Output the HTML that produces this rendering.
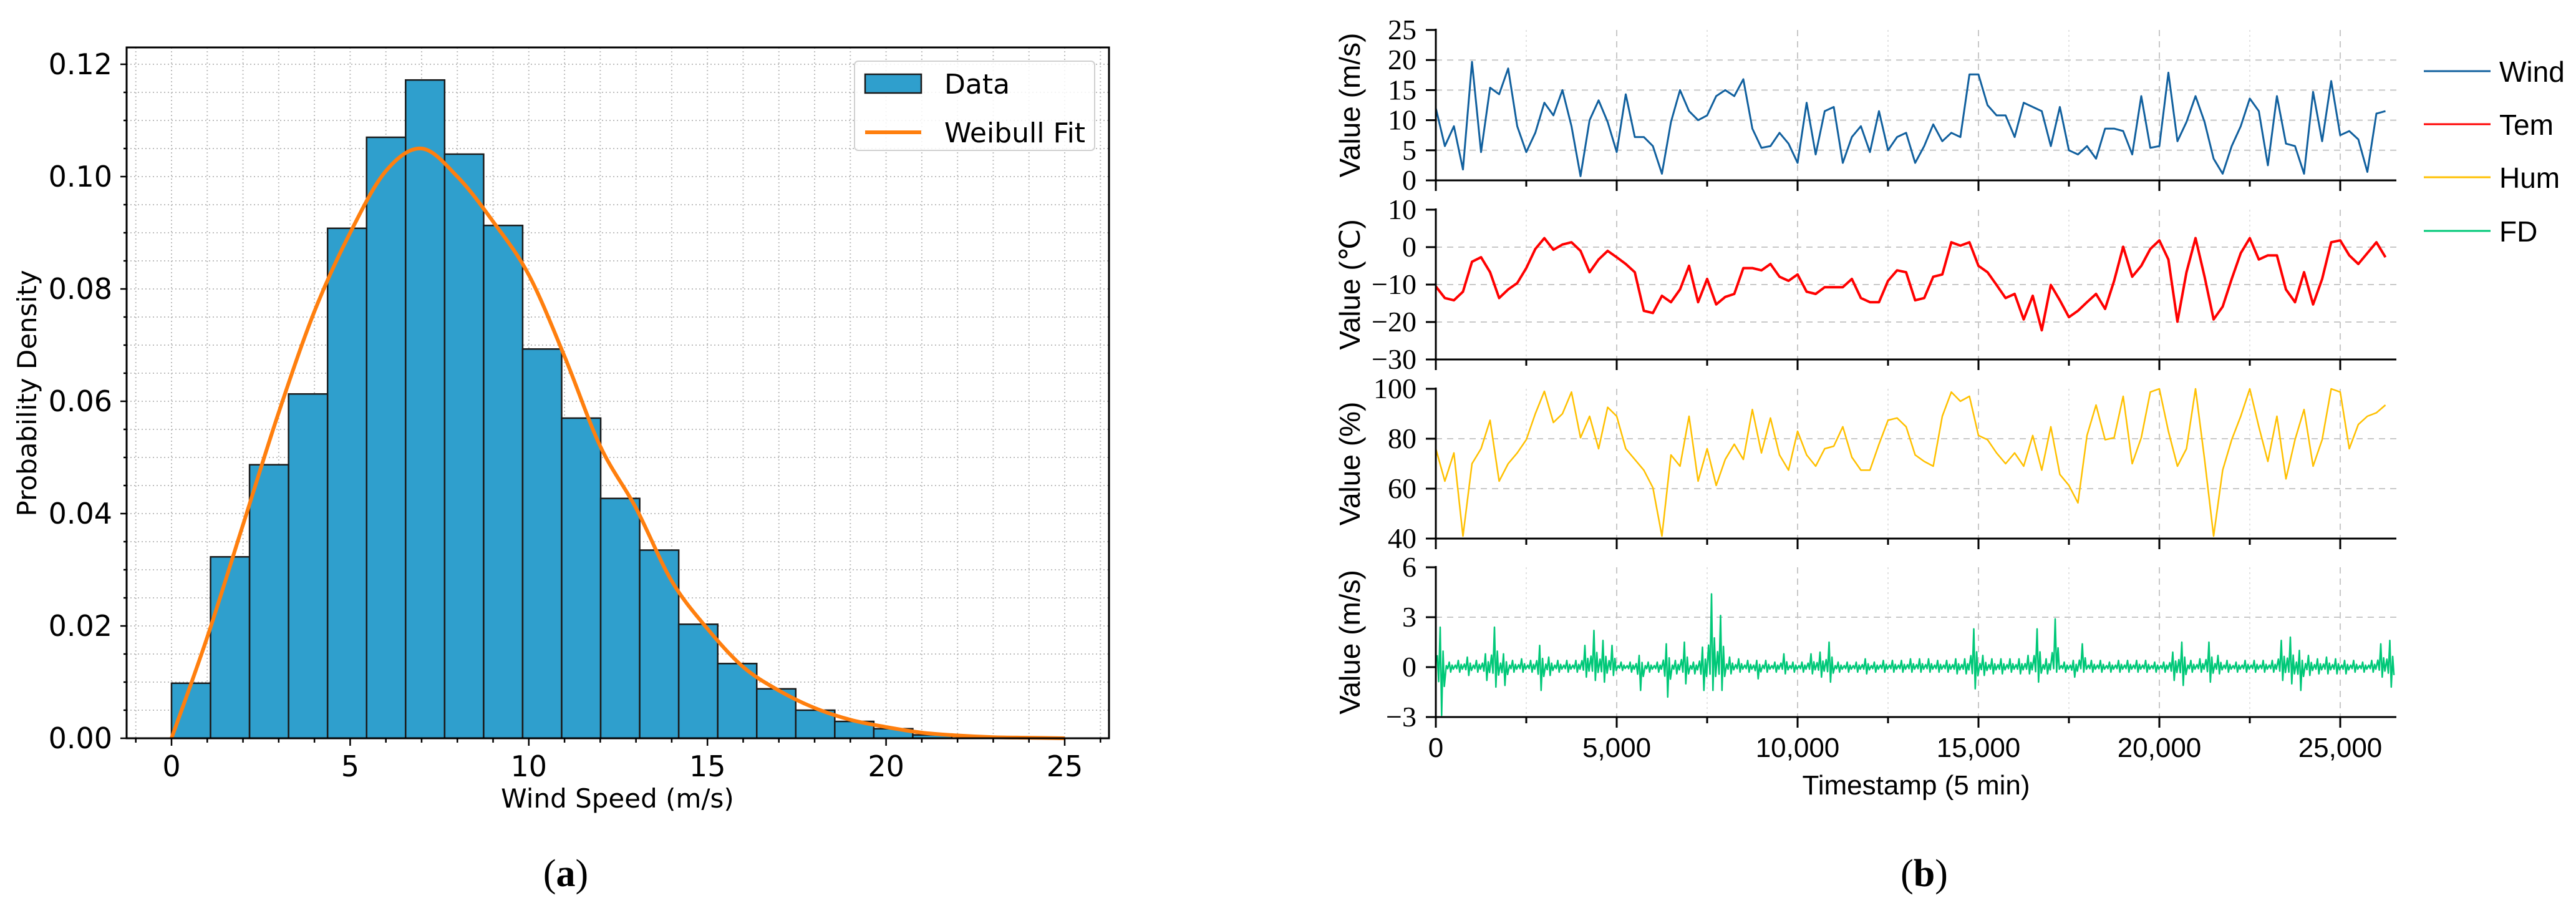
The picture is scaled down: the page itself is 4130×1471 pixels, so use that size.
<!DOCTYPE html>
<html><head><meta charset="utf-8"><style>
html,body{margin:0;padding:0;background:#fff;}
svg{display:block;}
</style></head><body>
<svg id="fig" width="4130" height="1471" viewBox="0 0 4130 1471" xmlns="http://www.w3.org/2000/svg">
<g id="left"></g>
<g id="right"></g>
<text x="907" y="1420" font-family="Liberation Serif, serif" font-size="62" text-anchor="middle">(<tspan font-weight="bold">a</tspan>)</text>
<text x="3085" y="1420" font-family="Liberation Serif, serif" font-size="62" text-anchor="middle">(<tspan font-weight="bold">b</tspan>)</text>
</svg>
<script>
// ---------- Histogram data ----------
const binStart = 0;
const binWidth = 1.092;
const histDensity = [0.0098,0.0323,0.0487,0.0613,0.0908,0.1070,0.1172,0.1040,0.0913,0.0693,0.0570,0.0427,0.0335,0.0203,0.0133,0.0088,0.0050,0.0030,0.0017,0.0006];
const fitX = [0,1,2,3,4,5,6,7,8,9,10,11,12,13,14,15,16,17,18,19,20,21,22,23,24,25];
const fitY = [0,0.018,0.038,0.058,0.076,0.090,0.101,0.105,0.100,0.092,0.0825,0.068,0.052,0.041,0.028,0.0195,0.0127,0.0085,0.0054,0.0033,0.002,0.001,0.0005,0.0002,0.0001,0];
const histYTicks = ["0.00","0.02","0.04","0.06","0.08","0.10","0.12"];
const histXTicks = [0,5,10,15,20,25];

// ---------- Time series data (one value per 250 timesteps) ----------
const tStep = 250;
const windVals = [12,5.7,9,1.8,19.7,4.7,15.4,14.3,18.6,9,4.7,7.9,12.9,10.8,15,9,0.7,10,13.3,9.7,4.7,14.3,7.2,7.2,5.7,1.1,9.7,15,11.5,10,10.8,14,15,14,16.8,8.6,5.4,5.7,7.9,6.1,2.9,12.9,4.3,11.5,12.2,2.9,7.2,9,4.7,11.5,5,7.2,7.9,2.9,5.7,9.3,6.5,7.9,7.2,17.6,17.6,12.5,10.8,10.8,7.2,12.9,12.2,11.5,5.7,12.2,5,4.3,5.7,3.6,8.6,8.6,8.2,4.3,14,5.4,5.7,17.9,6.5,9.7,14,9.7,3.6,1.1,5.7,9,13.6,11.5,2.5,14,6.1,5.7,1.1,14.7,6.5,16.5,7.5,8.2,6.8,1.4,11.1,11.5];
const temVals = [-10.5,-13.6,-14.2,-11.9,-3.9,-2.7,-6.7,-13.6,-11.3,-9.6,-5.6,-0.5,2.4,-0.7,0.7,1.3,-1,-6.7,-3.3,-1,-2.7,-4.5,-6.7,-17,-17.6,-13,-14.7,-11.3,-5,-14.7,-8.5,-15.3,-13.3,-12.5,-5.6,-5.6,-6.2,-4.5,-7.9,-9,-7.3,-11.9,-12.5,-10.7,-10.7,-10.7,-8.5,-13.6,-14.7,-14.7,-9,-6.2,-6.7,-14.2,-13.6,-7.9,-7.3,1.3,0.4,1.3,-5,-6.7,-10.1,-13.6,-12.5,-19.3,-13,-22.2,-10.1,-14.2,-18.7,-17,-14.7,-12.5,-16.5,-9,0.1,-7.9,-5,-0.5,1.8,-3.3,-19.9,-6.7,2.4,-7.9,-19.3,-15.9,-8.5,-1.6,2.4,-3.3,-2.2,-2.2,-11.3,-14.7,-6.7,-15.3,-8.5,1.3,1.8,-2.2,-4.5,-1.6,1.3,-2.7];
const humVals = [76,63,74.3,41,70,76,87.4,63,70,74.3,79.6,90,99,86.5,90,98.7,80.4,89,76,92.6,89,76,71.7,67.4,60.4,41,73.5,69,89,63,76,61.3,71.7,77.8,71.7,91.7,74.3,88.3,73.5,67.4,83,73.5,69,76,77,84.8,72.6,67.4,67.4,77.8,87.4,88.3,84.8,73.5,70.9,69,89,98.7,95,97,81.3,79.6,74.3,70,74.3,69,81.3,67.4,84.8,65.7,61.3,54.3,81.3,93.5,79.6,80.4,97,70,80.4,98.7,100,83,69,76,100,71.7,41,67.4,79.6,89,100,84.8,70.9,89,63.9,79.6,91.7,69,79.6,100,98.7,76,85.7,89,90.4,93.5];
const fdHigh = [2.4,.3,.4,.6,.4,.8,2.4,.8,.4,.5,.4,1.3,.6,.4,.4,.4,1.3,2.2,1.6,1.3,.3,.3,.7,.3,.3,1.4,.4,1.5,.3,1.2,4.4,3.1,.6,.5,.4,.4,.4,.3,.8,.3,.3,.8,.9,1.5,.3,.3,.3,.5,.3,.4,.4,.4,.5,.5,.5,.4,.4,.5,.5,2.3,.7,.5,.5,.5,.5,.7,2.3,.5,2.9,.3,.4,1.4,.4,.4,.3,.4,.4,.4,.4,.3,.3,.9,1.5,.4,.5,1.5,.7,.4,.3,.4,.4,.4,.4,1.6,1.8,1.0,.7,.5,.6,.5,.4,.4,.3,.4,1.4,1.6];
const fdLow = [-2.9,-.3,-.3,-.5,-.3,-.8,-1.2,-1.1,-.3,-.3,-.3,-1.4,-.5,-.3,-.3,-.3,-.6,-.8,-.9,-.5,-.2,-.3,-1.4,-.3,-.3,-1.8,-.4,-1.0,-.4,-1.4,-1.4,-1.4,-.4,-.3,-.3,-.7,-.3,-.3,-.4,-.3,-.3,-.4,-.6,-.9,-.3,-.3,-.3,-.4,-.3,-.3,-.3,-.3,-.3,-.3,-.3,-.3,-.3,-.4,-.4,-1.3,-.5,-.4,-.4,-.3,-.4,-.4,-.9,-.4,-.3,-.3,-.6,-.3,-.3,-.3,-.3,-.3,-.3,-.3,-.3,-.3,-.3,-.8,-1.1,-.3,-.3,-.9,-.4,-.3,-.3,-.3,-.3,-.3,-.3,-.8,-1.0,-1.4,-.5,-.4,-.4,-.4,-.4,-.3,-.3,-.3,-.6,-1.2];
const timeTicks = ["0","5,000","10,000","15,000","20,000","25,000"];
const windTicks = [0,5,10,15,20,25];
const temTicks = [-30,-20,-10,0,10];
const humTicks = [40,60,80,100];
const fdTicks = [-3,0,3,6];
const legendNames = ["Wind","Tem","Hum","FD"];

const NS = "http://www.w3.org/2000/svg";
function mk(parent, tag, attrs, txt){
  const e = document.createElementNS(NS, tag);
  for (const k in attrs) e.setAttribute(k, attrs[k]);
  if (txt !== undefined) e.textContent = txt;
  parent.appendChild(e);
  return e;
}

// ================= LEFT: histogram =================
(function(){
  const g = document.getElementById('left');
  const L = 203, R = 1778, T = 76, B = 1183;
  const xS = v => 275 + v * 57.28;
  const yS = v => 1183 - v * 9000;
  const sans = "DejaVu Sans, Liberation Sans, sans-serif";
  // grid
  for (let i = -1; i <= 26; i++) {
    const gl = mk(g, 'line', {x1:xS(i), x2:xS(i), y1:T, y2:B, stroke:'#bdbdbd', 'stroke-width':2, 'stroke-dasharray':'2 4'});
    
    
  }
  for (let i = 0; i <= 24; i++) {
    const y = yS(i * 0.005);
    if (y < T) continue;
    const gl = mk(g, 'line', {x1:L, x2:R, y1:y, y2:y, stroke:'#bdbdbd', 'stroke-width':2, 'stroke-dasharray':'2 4'});
    
    
  }
  // bars
  histDensity.forEach((d, i) => {
    const x0 = xS(binStart + i * binWidth), x1 = xS(binStart + (i + 1) * binWidth);
    const b = mk(g, 'rect', {x:x0, y:yS(d), width:x1 - x0, height:yS(0) - yS(d), fill:'#2f9fcd', stroke:'#1a1a1a', 'stroke-width':2.5});
    
    
  });
  // fit curve (Catmull-Rom)
  const pts = fitX.map((x, i) => [xS(x), yS(fitY[i])]);
  let d = 'M' + pts[0][0] + ',' + pts[0][1];
  for (let i = 0; i < pts.length - 1; i++) {
    const p0 = pts[Math.max(0, i - 1)], p1 = pts[i], p2 = pts[i + 1], p3 = pts[Math.min(pts.length - 1, i + 2)];
    const c1 = [p1[0] + (p2[0] - p0[0]) / 6, p1[1] + (p2[1] - p0[1]) / 6];
    const c2 = [p2[0] - (p3[0] - p1[0]) / 6, p2[1] - (p3[1] - p1[1]) / 6];
    d += ' C' + c1[0] + ',' + c1[1] + ' ' + c2[0] + ',' + c2[1] + ' ' + p2[0] + ',' + p2[1];
  }
  const fc = mk(g, 'path', {d:d, fill:'none', stroke:'#ff7f0e', 'stroke-width':6});
  
  
  // frame
  const fr = mk(g, 'rect', {x:L, y:T, width:R - L, height:B - T, fill:'none', stroke:'#000', 'stroke-width':3});
  
  
  // x ticks
  for (let i = -1; i <= 26; i++) {
    const major = i % 5 === 0 && i >= 0;
    mk(g, 'line', {x1:xS(i), x2:xS(i), y1:B, y2:B + (major ? 12 : 7), stroke:'#000', 'stroke-width':2.5});
  }
  histXTicks.forEach(v => {
    const t = mk(g, 'text', {x:xS(v), y:1244, 'font-family':sans, 'font-size':46, 'text-anchor':'middle'}, String(v));
    
    
  });
  // y ticks
  for (let i = 0; i <= 24; i++) {
    const y = yS(i * 0.005);
    if (y < T) continue;
    const major = i % 4 === 0;
    mk(g, 'line', {x1:L, x2:L - (major ? 10 : 5), y1:y, y2:y, stroke:'#000', 'stroke-width':2.5});
  }
  histYTicks.forEach((s, i) => {
    const t = mk(g, 'text', {x:180, y:yS(i * 0.02) + 16, 'font-family':sans, 'font-size':46, 'text-anchor':'end'}, s);
    
    
  });
  const xt = mk(g, 'text', {x:990, y:1294, 'font-family':sans, 'font-size':42, 'text-anchor':'middle'}, 'Wind Speed (m/s)');
  
  
  const yt = mk(g, 'text', {x:0, y:0, 'font-family':sans, 'font-size':42, 'text-anchor':'middle', transform:'translate(58,630) rotate(-90)'}, 'Probability Density');
  
  
  // legend
  const lg = mk(g, 'g', {});
  
  
  mk(lg, 'rect', {x:1370, y:98, width:385, height:143, rx:6, fill:'#fff', 'fill-opacity':0.85, stroke:'#d0d0d0', 'stroke-width':2});
  const e1 = mk(lg, 'rect', {x:1387, y:119, width:90, height:30, fill:'#2f9fcd', stroke:'#1a1a1a', 'stroke-width':2.5});
  
  
  mk(lg, 'text', {x:1514, y:150, 'font-family':sans, 'font-size':44}, 'Data');
  const e2 = mk(lg, 'line', {x1:1387, x2:1477, y1:212, y2:212, stroke:'#ff7f0e', 'stroke-width':6});
  
  
  mk(lg, 'text', {x:1514, y:228, 'font-family':sans, 'font-size':44}, 'Weibull Fit');
})();

// ================= RIGHT: time series =================
(function(){
  const g = document.getElementById('right');
  const L = 2302, R = 3842;
  const xS = t => L + t * 0.058;
  const serif = "Liberation Serif, serif";
  const sans = "Liberation Sans, Arial, sans-serif";
  const panels = [
    {name:'wind', top:48, bot:289, min:0, max:25, ticks:windTicks, grid:[5,10,15,20], color:'#11609e', w:3, label:'Value (m/s)', vals:windVals},
    {name:'tem', top:336, bot:576, min:-30, max:10, ticks:temTicks, grid:[-20,-10,0], color:'#ff0000', w:4, label:'Value (\u2103)', vals:temVals},
    {name:'hum', top:623, bot:863, min:40, max:100, ticks:humTicks, grid:[60,80], color:'#ffc000', w:2.5, label:'Value (%)', vals:humVals},
    {name:'fd', top:909, bot:1149, min:-3, max:6, ticks:fdTicks, grid:[3], color:'#00c878', w:2.5, label:'Value (m/s)', vals:null}
  ];
  panels.forEach(p => {
    const pg = mk(g, 'g', {});
    
    
    const yS = v => p.bot - (v - p.min) / (p.max - p.min) * (p.bot - p.top);
    // vertical grid
    for (let t = 2500; t <= 25000; t += 2500) {
      const major = t % 5000 === 0;
      mk(pg, 'line', {x1:xS(t), x2:xS(t), y1:p.top, y2:p.bot, stroke: major ? '#c8c8c8' : '#e2e2e2', 'stroke-width':2, 'stroke-dasharray': major ? '10 8' : '3 5'});
    }
    p.grid.forEach(v => {
      mk(pg, 'line', {x1:L, x2:R, y1:yS(v), y2:yS(v), stroke:'#c8c8c8', 'stroke-width':2, 'stroke-dasharray':'10 8'});
    });
    // series
    let d = '';
    if (p.vals) {
      p.vals.forEach((v, i) => { d += (i ? ' L' : 'M') + xS(i * tStep).toFixed(1) + ',' + yS(v).toFixed(1); });
    } else {
      fdHigh.forEach((h, i) => {
        const t0 = i * tStep;
        d += (i ? ' L' : 'M') + xS(t0 + 40).toFixed(1) + ',' + yS(h * 0.3).toFixed(1);
        d += ' L' + xS(t0 + 80).toFixed(1) + ',' + yS(fdLow[i] * 0.3).toFixed(1);
        d += ' L' + xS(t0 + 120).toFixed(1) + ',' + yS(h).toFixed(1);
        d += ' L' + xS(t0 + 160).toFixed(1) + ',' + yS(fdLow[i]).toFixed(1);
        d += ' L' + xS(t0 + 200).toFixed(1) + ',' + yS(h * 0.4).toFixed(1);
        d += ' L' + xS(t0 + 235).toFixed(1) + ',' + yS(fdLow[i] * 0.4).toFixed(1);
      });
    }
    const ln = mk(pg, 'path', {d:d, fill:'none', stroke:p.color, 'stroke-width':p.w, 'stroke-linejoin':'round'});
    
    
    // axes
    mk(pg, 'line', {x1:L, x2:L, y1:p.top - 2, y2:p.bot + 1.5, stroke:'#000', 'stroke-width':3});
    mk(pg, 'line', {x1:L - 1.5, x2:R, y1:p.bot, y2:p.bot, stroke:'#000', 'stroke-width':3});
    for (let t = 0; t <= 25000; t += 2500) {
      const major = t % 5000 === 0;
      mk(pg, 'line', {x1:xS(t), x2:xS(t), y1:p.bot, y2:p.bot + (major ? 17 : 10), stroke:'#000', 'stroke-width':3});
    }
    p.ticks.forEach(v => {
      mk(pg, 'line', {x1:L, x2:L - 16, y1:yS(v), y2:yS(v), stroke:'#000', 'stroke-width':3});
      const lbl = v < 0 ? '\u2212' + Math.abs(v) : String(v);
      const t = mk(pg, 'text', {x:2271, y:yS(v) + 15, 'font-family':serif, 'font-size':46, 'text-anchor':'end'}, lbl);
      
      
    });
    const yt = mk(pg, 'text', {x:0, y:0, 'font-family':sans, 'font-size':46, 'text-anchor':'middle', transform:'translate(2180,' + ((p.top + p.bot) / 2) + ') rotate(-90)'}, p.label);
    
    
  });
  timeTicks.forEach((s, i) => {
    const t = mk(g, 'text', {x:xS(i * 5000), y:1213, 'font-family':sans, 'font-size':44, 'text-anchor':'middle'}, s);
    
    
  });
  const xt = mk(g, 'text', {x:3072, y:1273, 'font-family':sans, 'font-size':44, 'text-anchor':'middle'}, 'Timestamp (5 min)');
  
  
  // legend
  const legY = [114, 199, 284, 370];
  legendNames.forEach((n, i) => {
    const e = mk(g, 'g', {});
    
    
    mk(e, 'line', {x1:3886, x2:3993, y1:legY[i], y2:legY[i], stroke:panels[i].color, 'stroke-width':3});
    mk(e, 'text', {x:4007, y:legY[i] + 17, 'font-family':sans, 'font-size':46}, n);
  });
})();
</script>
</body></html>
